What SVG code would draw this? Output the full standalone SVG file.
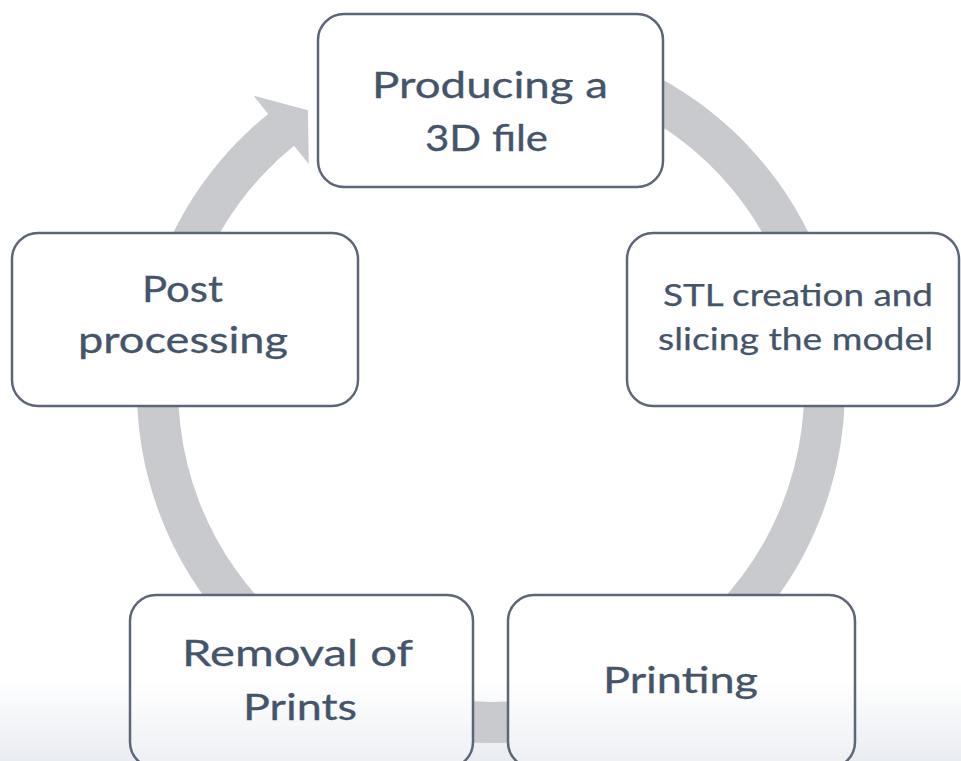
<svg xmlns="http://www.w3.org/2000/svg" width="961" height="761" viewBox="0 0 961 761">
<style>
.node rect{fill:#ffffff;stroke:#5d6677;stroke-width:2.5}
.node rect.low{fill:url(#fadeBox)}
.lbl{font-family:Lato,"Open Sans","Liberation Sans",sans-serif;fill:#44546a;stroke:#44546a;stroke-width:0.3;font-size:37px}
.sm{font-size:30px;stroke-width:0.25}
</style>
<defs>
<linearGradient id="fade" gradientUnits="userSpaceOnUse" x1="0" y1="680" x2="0" y2="761">
<stop offset="0" stop-color="#ffffff"/>
<stop offset="1" stop-color="#e9ecf1"/>
</linearGradient>
<linearGradient id="fadeBox" gradientUnits="userSpaceOnUse" x1="0" y1="680" x2="0" y2="761">
<stop offset="0" stop-color="#ffffff"/>
<stop offset="1" stop-color="#eef0f4"/>
</linearGradient>
</defs>
<rect x="0" y="0" width="961" height="761" fill="#ffffff"/>
<rect x="0" y="680" width="961" height="81" fill="url(#fade)"/>
<g id="connectors">
<path fill="#c9cacd" d="M341.4,68.2 A354,354 0 1 1 268.2,113.9 L253.4,95.6 L307.9,110.3 L308.8,164.0 L294.0,145.8 A313,313 0 1 0 358.7,105.3 Z"/>
</g>
<g id="node-produce" class="node">
<rect x="318" y="14" width="345" height="173" rx="26"/>
<text class="lbl" x="372" y="98" textLength="236" lengthAdjust="spacingAndGlyphs">Producing a</text>
<text class="lbl" x="425" y="151" textLength="123" lengthAdjust="spacingAndGlyphs">3D file</text>
</g>
<g id="node-stl" class="node">
<rect x="627" y="233" width="332" height="173" rx="26"/>
<text class="lbl sm" x="663" y="306" textLength="270" lengthAdjust="spacingAndGlyphs">STL creation and</text>
<text class="lbl sm" x="658" y="350" textLength="275" lengthAdjust="spacingAndGlyphs">slicing the model</text>
</g>
<g id="node-printing" class="node">
<rect class="low" x="508" y="595" width="347" height="173" rx="26"/>
<text class="lbl" x="603" y="693" textLength="155" lengthAdjust="spacingAndGlyphs">Printing</text>
</g>
<g id="node-removal" class="node">
<rect class="low" x="130" y="595" width="343" height="173" rx="26"/>
<text class="lbl" x="182" y="666" textLength="231" lengthAdjust="spacingAndGlyphs">Removal of</text>
<text class="lbl" x="243" y="720" textLength="114" lengthAdjust="spacingAndGlyphs">Prints</text>
</g>
<g id="node-post" class="node">
<rect x="12" y="233" width="346" height="173" rx="26"/>
<text class="lbl" x="142" y="302" textLength="81" lengthAdjust="spacingAndGlyphs">Post</text>
<text class="lbl" x="78" y="353" textLength="210" lengthAdjust="spacingAndGlyphs">processing</text>
</g>
</svg>
